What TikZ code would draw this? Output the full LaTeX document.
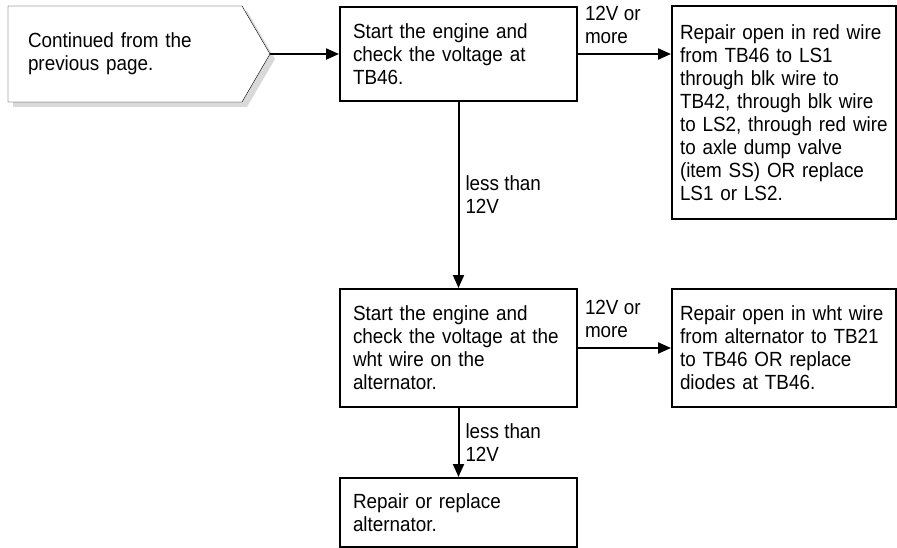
\documentclass[tikz,border=0pt]{standalone}
\usepackage{fontspec}
\setmainfont{Liberation Sans}[FakeStretch=0.92]
\usetikzlibrary{arrows.meta, positioning, calc, backgrounds, shadows}

\begin{document}
\begin{tikzpicture}[x=1pt, y=-1pt, line width=2pt,
    every node/.style={font=\fontsize{20.5}{23}\selectfont},
    stepbox/.style={draw, rectangle, anchor=north west, align=left, text width=211pt, inner xsep=13pt},
    repbox/.style={draw, rectangle, anchor=north west, align=left, text width=208pt, inner xsep=8pt},
    lbl/.style={align=left, inner xsep=6pt, inner ysep=9pt},
    arr/.style={-{Triangle[length=13pt, width=11pt]}}]
    \useasboundingbox (0,0) rectangle (897,548);
    % start of this page
    \node[anchor=north west, align=left, minimum height=94pt, text width=194pt, inner xsep=19pt] (prev) at (8,6) {Continued from the\\previous page.};
    \coordinate (tip) at ($(prev.east)+(28,0)$);
    \begin{scope}[on background layer]
        \draw[fill=white, drop shadow={shadow xshift=5pt, shadow yshift=-5pt, fill=black!15, opacity=1}]
            (prev.north west) -- (prev.north east) -- (tip) -- (prev.south east) -- (prev.south west) -- cycle;
    \end{scope}
    % checks and repairs
    \node[stepbox, minimum height=94pt] (chk) at (339,6) {Start the engine and\\check the voltage at\\TB46.};
    \node[repbox, minimum height=213pt] (red) at (671,5) {Repair open in red wire\\from TB46 to LS1\\through blk wire to\\TB42, through blk wire\\to LS2, through red wire\\to axle dump valve\\(item SS) OR replace\\LS1 or LS2.};
    \node[stepbox, minimum height=118pt] (alt) at (339,288) {Start the engine and\\check the voltage at the\\wht wire on the\\alternator.};
    \node[repbox, minimum height=118pt] (wht) at (671,288) {Repair open in wht wire\\from alternator to TB21\\to TB46 OR replace\\diodes at TB46.};
    \node[stepbox, minimum height=69pt] (fix) at (339,477) {Repair or replace\\alternator.};
    % connectors
    \draw[arr] (tip) -- (tip -| chk.west);
    \draw[arr] (chk.east) -- node[lbl, at start, anchor=south west] {12V or\\more} (chk.east -| red.west);
    \draw[arr] (chk) -- node[lbl, midway, anchor=west] {less than\\12V} (alt);
    \draw[arr] (alt) -- node[lbl, at start, anchor=south west] {12V or\\more} (wht);
    \draw[arr] (alt) -- node[lbl, midway, anchor=west] {less than\\12V} (fix);
\end{tikzpicture}
\end{document}
